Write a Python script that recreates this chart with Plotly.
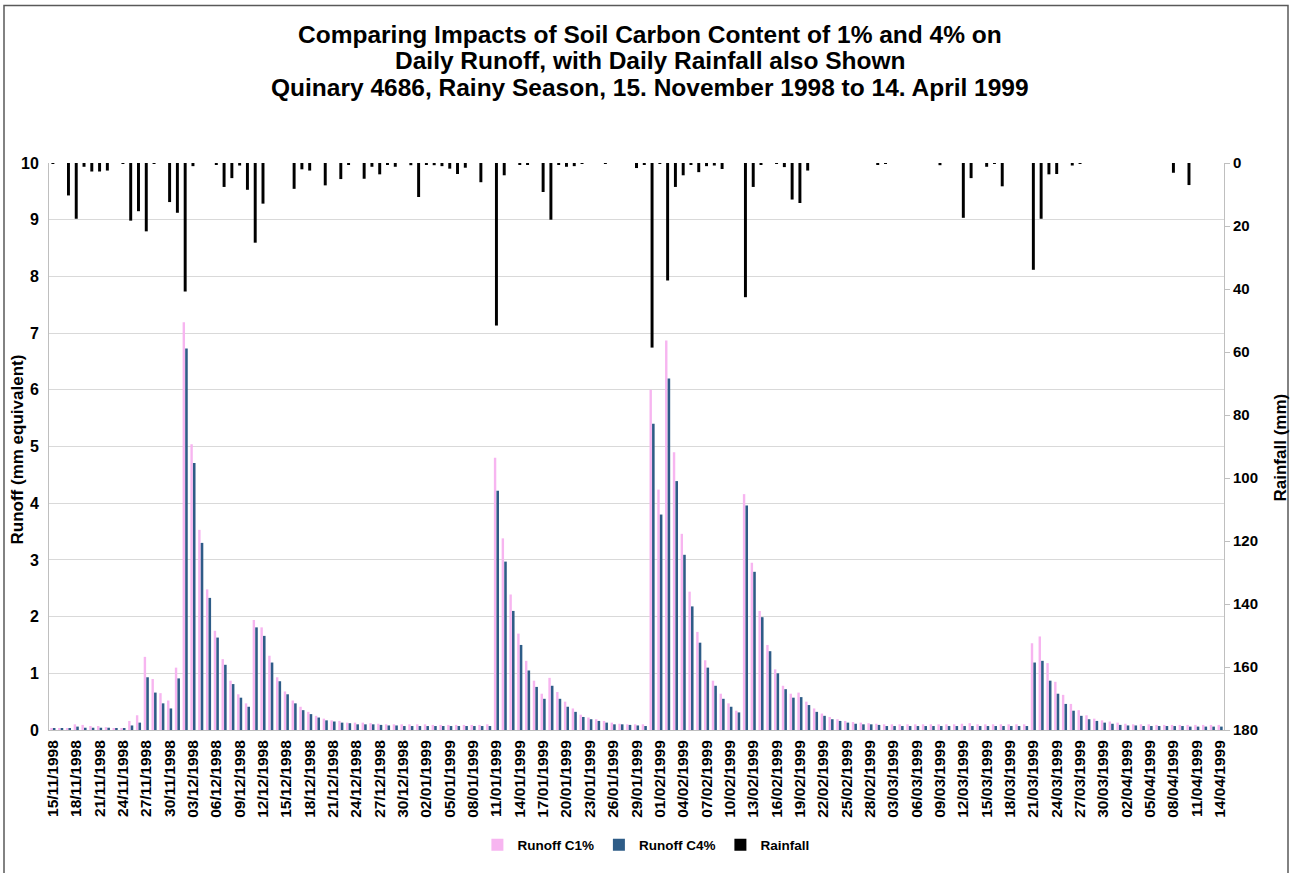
import pandas as pd
import plotly.graph_objects as go

# Categories: daily dates 15/11/1998 .. 14/04/1999
dates = [d.strftime("%d/%m/%Y") for d in pd.date_range("1998-11-15", "1999-04-14", freq="D")]

runoff_c1 = [
    0.03, 0.03, 0.02, 0.10, 0.09, 0.07, 0.07, 0.05, 0.03, 0.03,
    0.16, 0.26, 1.29, 0.90, 0.65, 0.52, 1.10, 7.19, 5.04, 3.53,
    2.48, 1.75, 1.25, 0.87, 0.63, 0.47, 1.94, 1.81, 1.31, 0.93,
    0.68, 0.52, 0.41, 0.32, 0.25, 0.20, 0.17, 0.16, 0.13, 0.13,
    0.13, 0.12, 0.11, 0.10, 0.10, 0.10, 0.10, 0.10, 0.10, 0.09,
    0.09, 0.09, 0.09, 0.09, 0.09, 0.09, 0.10, 4.80, 3.38, 2.39,
    1.70, 1.22, 0.87, 0.64, 0.92, 0.67, 0.50, 0.38, 0.27, 0.22,
    0.19, 0.16, 0.13, 0.11, 0.10, 0.10, 0.10, 6.00, 4.24, 6.87,
    4.90, 3.46, 2.44, 1.73, 1.23, 0.87, 0.64, 0.47, 0.34, 4.16,
    2.95, 2.10, 1.50, 1.07, 0.78, 0.64, 0.66, 0.50, 0.38, 0.29,
    0.23, 0.19, 0.16, 0.14, 0.13, 0.12, 0.11, 0.10, 0.10, 0.10,
    0.10, 0.10, 0.10, 0.10, 0.10, 0.10, 0.10, 0.11, 0.12, 0.10,
    0.10, 0.10, 0.10, 0.10, 0.10, 0.10, 1.53, 1.65, 1.18, 0.85,
    0.62, 0.46, 0.35, 0.26, 0.20, 0.17, 0.15, 0.13, 0.11, 0.10,
    0.10, 0.10, 0.09, 0.09, 0.09, 0.09, 0.09, 0.09, 0.09, 0.09,
    0.09,
]

runoff_c4 = [
    0.03, 0.02, 0.02, 0.06, 0.04, 0.04, 0.04, 0.04, 0.02, 0.02,
    0.08, 0.13, 0.93, 0.66, 0.47, 0.38, 0.91, 6.73, 4.71, 3.30,
    2.33, 1.63, 1.15, 0.81, 0.57, 0.41, 1.81, 1.66, 1.19, 0.86,
    0.63, 0.47, 0.35, 0.28, 0.22, 0.17, 0.15, 0.13, 0.12, 0.10,
    0.10, 0.10, 0.09, 0.08, 0.08, 0.07, 0.07, 0.07, 0.07, 0.07,
    0.07, 0.07, 0.07, 0.07, 0.07, 0.07, 0.07, 4.22, 2.97, 2.10,
    1.50, 1.05, 0.76, 0.55, 0.78, 0.55, 0.41, 0.32, 0.23, 0.19,
    0.16, 0.13, 0.10, 0.10, 0.09, 0.08, 0.07, 5.40, 3.80, 6.20,
    4.39, 3.09, 2.18, 1.54, 1.10, 0.78, 0.55, 0.41, 0.31, 3.96,
    2.79, 1.99, 1.39, 1.00, 0.72, 0.57, 0.58, 0.44, 0.32, 0.25,
    0.19, 0.16, 0.13, 0.11, 0.10, 0.10, 0.09, 0.07, 0.07, 0.07,
    0.07, 0.07, 0.07, 0.07, 0.07, 0.07, 0.07, 0.07, 0.07, 0.07,
    0.07, 0.07, 0.07, 0.07, 0.07, 0.07, 1.19, 1.22, 0.87, 0.64,
    0.46, 0.34, 0.25, 0.19, 0.16, 0.13, 0.11, 0.09, 0.08, 0.08,
    0.07, 0.07, 0.07, 0.07, 0.07, 0.07, 0.06, 0.06, 0.06, 0.06,
    0.06,
]

rainfall = [
    0.2, 0.0, 10.3, 17.7, 1.2, 2.7, 2.7, 2.4, 0.0, 0.3,
    18.3, 15.3, 21.7, 0.3, 0.0, 12.4, 15.8, 40.8, 1.0, 0.0,
    0.0, 0.5, 7.6, 4.8, 0.8, 8.5, 25.3, 12.9, 0.0, 0.0,
    0.0, 8.2, 2.0, 2.4, 0.0, 7.1, 0.0, 5.1, 0.5, 0.0,
    5.0, 1.2, 3.6, 0.5, 1.2, 0.0, 0.7, 10.8, 0.5, 0.7,
    1.0, 1.8, 3.5, 1.5, 0.0, 6.1, 0.0, 51.6, 3.9, 0.0,
    0.5, 0.5, 0.0, 9.2, 18.0, 0.4, 1.2, 1.0, 0.3, 0.0,
    0.0, 0.3, 0.0, 0.0, 0.0, 1.6, 0.4, 58.6, 0.3, 37.3,
    7.6, 3.9, 0.5, 2.9, 1.0, 0.8, 1.9, 0.0, 0.0, 42.6,
    7.6, 0.5, 0.0, 0.3, 1.3, 11.6, 12.7, 2.4, 0.0, 0.0,
    0.0, 0.0, 0.0, 0.0, 0.0, 0.0, 0.4, 0.3, 0.0, 0.0,
    0.0, 0.0, 0.0, 0.0, 0.7, 0.0, 0.0, 17.4, 4.8, 0.0,
    1.2, 0.3, 7.4, 0.0, 0.0, 0.0, 33.9, 17.7, 3.6, 3.5,
    0.0, 0.8, 0.3, 0.0, 0.0, 0.0, 0.0, 0.0, 0.0, 0.0,
    0.0, 0.0, 0.0, 0.0, 3.1, 0.0, 7.0, 0.0, 0.0, 0.0,
    0.0,
]

tick_labels = dates[::3]

title_lines = [
    "Comparing Impacts of Soil Carbon Content of 1% and 4% on",
    "Daily Runoff, with Daily Rainfall also Shown",
    "Quinary 4686, Rainy Season, 15. November 1998 to 14. April 1999",
]

FONT = "Arial, 'Liberation Sans', sans-serif"
PINK = "#F7B5F0"
BLUE = "#2E5C87"

fig = go.Figure()
fig.add_trace(go.Bar(x=dates, y=runoff_c1, name="Runoff C1%", marker=dict(color=PINK, line=dict(width=0)),
                     offset=-0.33, width=0.31, yaxis="y"))
fig.add_trace(go.Bar(x=dates, y=runoff_c4, name="Runoff C4%", marker=dict(color=BLUE, line=dict(width=0)),
                     offset=0.0, width=0.33, yaxis="y"))
fig.add_trace(go.Bar(x=dates, y=rainfall, name="Rainfall", marker=dict(color="#000000", line=dict(width=0)),
                     offset=-0.19, width=0.38, yaxis="y2"))

PL, PR, PT, PB = 49, 1224, 163, 735
PW, PH = PR - PL, PB - PT

fig.update_layout(
    width=1295, height=873,
    margin=dict(l=PL, r=1295 - PR, t=PT, b=873 - PB),
    paper_bgcolor="white", plot_bgcolor="white",
    barmode="overlay",
    font=dict(family=FONT, color="#000000", size=14, weight="bold"),
    xaxis=dict(
        type="category", tickmode="array", tickvals=tick_labels, ticktext=tick_labels,
        tickangle=-90, tickfont=dict(family=FONT, size=15.5, weight="bold"),
        showline=True, linecolor="#BFBFBF", linewidth=1, showgrid=False, ticks="",
        ticklabelstandoff=3, automargin=False,
        range=[-0.5, len(dates) - 0.5],
    ),
    yaxis=dict(
        range=[0, 10], dtick=1, showgrid=True, gridcolor="#D9D9D9", gridwidth=1,
        showline=True, linecolor="#BFBFBF", ticks="", zeroline=False,
        tickfont=dict(family=FONT, size=16, weight="bold"), ticklabelstandoff=6,
        automargin=False,
    ),
    yaxis2=dict(
        overlaying="y", side="right", range=[180, 0], dtick=20, showgrid=False,
        showline=True, linecolor="#BFBFBF", ticks="outside", ticklen=5, tickcolor="#BFBFBF",
        zeroline=False, tickfont=dict(family=FONT, size=15, weight="bold"),
        automargin=False,
    ),
    legend=dict(
        orientation="h", x=0.508, xanchor="center", y=(PB - 851) / PH, yanchor="middle",
        font=dict(family=FONT, size=13.5, weight="bold"), itemwidth=30,
        bgcolor="rgba(0,0,0,0)",
    ),
    showlegend=True,
)

for line, py in zip(title_lines, [33, 60, 87]):
    fig.add_annotation(text=line, xref="paper", yref="paper",
                       x=(650 - PL) / PW, y=(PB - py) / PH, xanchor="center", yanchor="middle",
                       showarrow=False, font=dict(family=FONT, size=24.5, color="#000000", weight="bold"))

# Axis titles
fig.add_annotation(text="Runoff (mm equivalent)", xref="paper", yref="paper",
                   x=(17 - PL) / PW, y=(PB - 452) / PH, xanchor="center", yanchor="middle",
                   textangle=-90, showarrow=False,
                   font=dict(family=FONT, size=17, color="#000000", weight="bold"))
fig.add_annotation(text="Rainfall (mm)", xref="paper", yref="paper",
                   x=(1280 - PL) / PW, y=(PB - 450) / PH, xanchor="center", yanchor="middle",
                   textangle=-90, showarrow=False,
                   font=dict(family=FONT, size=17, color="#000000", weight="bold"))

fig.add_shape(type="rect", xref="paper", yref="paper",
              x0=(4 - PL) / PW, x1=(1288 - PL) / PW,
              y0=(PB - 880) / PH, y1=(PB - 4) / PH,
              line=dict(color="#595959", width=1.5), fillcolor="rgba(0,0,0,0)", layer="below")

fig.write_html("out.html")
